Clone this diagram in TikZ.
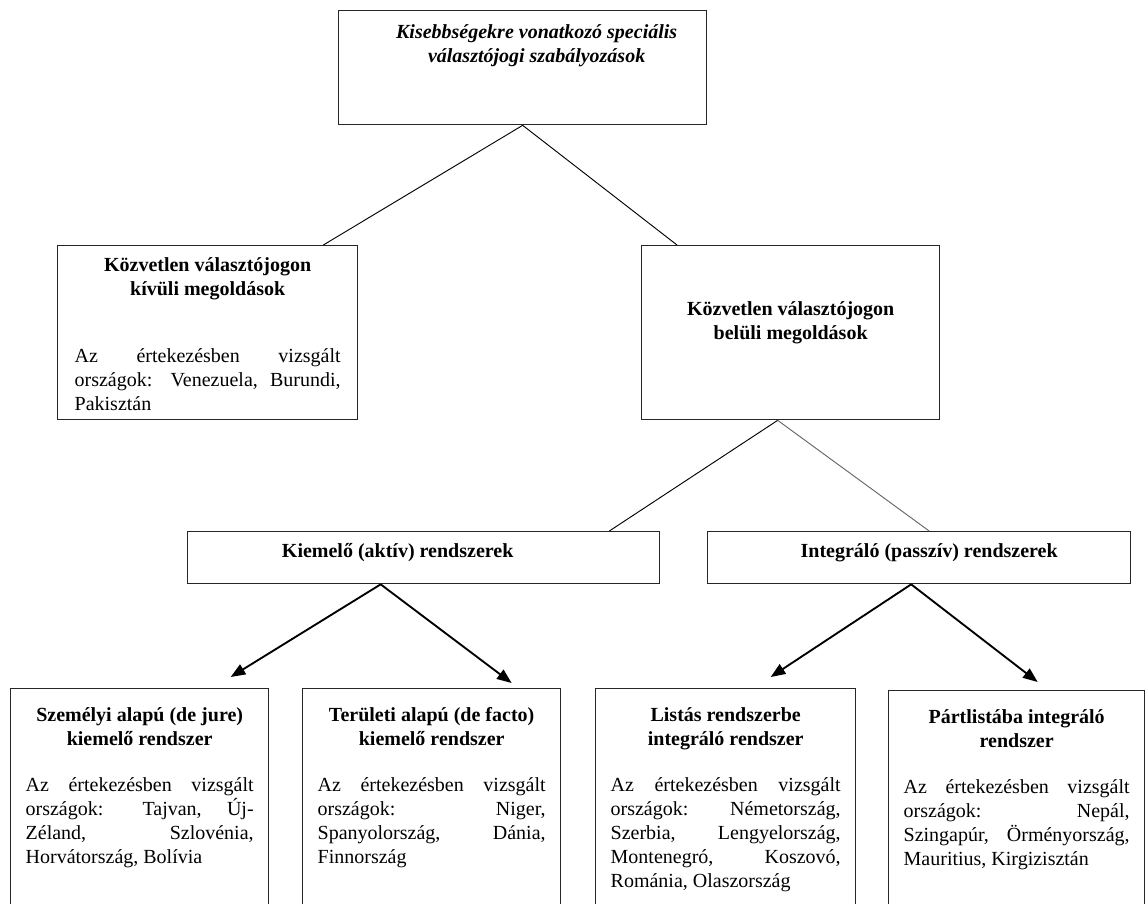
\documentclass[tikz,border=0pt]{standalone}
\usepackage{fontspec}
\setmainfont{Liberation Serif}
\usetikzlibrary{arrows.meta,calc}

\tolerance=10000
\hbadness=10000
\hyphenpenalty=10000

% a box: width, height, top skip, bold title, gap, justified body
\newcommand{\cell}[6]{\parbox[c][#2][t]{#1}{\vspace*{#3}%
  {\centering\bfseries\rule{0pt}{12pt}#4\par}\vspace{#5}#6\par}}
% a box with a title only
\newcommand{\headcell}[4]{\parbox[c][#2][t]{#1}{\vspace*{#3}%
  \centering\bfseries\rule{0pt}{12pt}#4\par}}

\begin{document}
\begin{tikzpicture}[
  x=0.75pt, y=-0.75pt,
  cellbox/.style = {draw=black!85, line width=1pt, anchor=north west,
                    inner ysep=0pt, inner xsep=11.25pt,
                    font=\fontsize{15pt}{18pt}\selectfont},
  branch/.style  = {line width=0.7pt},
  pointer/.style = {line width=1.4pt, -{Triangle[length=11pt,width=8.5pt]}},
]
  \useasboundingbox (0,0) rectangle (1148,903);
  \clip (0,0) rectangle (1148,903);

  \node[cellbox, inner xsep=7.5pt] (root) at (338,10)
    {\headcell{261pt}{85.5pt}{9pt}{\leftskip=21pt plus 1fil\itshape
     Kisebbségekre vonatkozó speciális\\ választójogi szabályozások}};

  \node[cellbox, inner xsep=12.75pt] (outer) at (57,245)
    {\cell{199.5pt}{130.5pt}{7.5pt}{Közvetlen választójogon\\ kívüli megoldások}{32.25pt}
     {Az értekezésben vizsgált\linebreak országok: Venezuela, Burundi,\linebreak Pakisztán}};
  \node[cellbox] (inner) at (641,245)
    {\headcell{201pt}{130.5pt}{40.5pt}{Közvetlen választójogon\\ belüli megoldások}};

  \node[cellbox] (active) at (187,531)
    {\headcell{331.5pt}{39pt}{7.5pt}{\hspace*{-39pt}Kiemelő (aktív) rendszerek}};
  \node[cellbox] (passive) at (707,531)
    {\headcell{294.75pt}{39pt}{7.5pt}{\hspace*{15pt}Integráló (passzív) rendszerek}};

  % the lowest row runs past the lower edge of the page
  \node[cellbox] (personal) at (10,688)
    {\cell{171pt}{187.5pt}{12.75pt}{Személyi alapú (de jure)\\ kiemelő rendszer}{16.5pt}
     {Az értekezésben vizsgált\linebreak országok: Tajvan, Új-\linebreak Zéland, Szlovénia,\linebreak Horvátország, Bolívia}};
  \node[cellbox] (territorial) at (302,688)
    {\cell{171pt}{187.5pt}{12.75pt}{Területi alapú (de facto)\\ kiemelő rendszer}{16.5pt}
     {Az értekezésben vizsgált\linebreak országok: Niger,\linebreak Spanyolország, Dánia,\linebreak Finnország}};
  \node[cellbox] (listed) at (595,688)
    {\cell{172.5pt}{187.5pt}{12.75pt}{Listás rendszerbe\\ integráló rendszer}{16.5pt}
     {Az értekezésben vizsgált\linebreak országok: Németország,\linebreak Szerbia, Lengyelország,\linebreak Montenegró, Koszovó,\linebreak Románia, Olaszország}};
  \node[cellbox] (party) at (888,690)
    {\cell{169.5pt}{187.5pt}{12.75pt}{Pártlistába integráló\\ rendszer}{16.5pt}
     {Az értekezésben vizsgált\linebreak országok: Nepál,\linebreak Szingapúr, Örményország,\linebreak Mauritius, Kirgizisztán}};

  \draw[branch] (root.south) -- ($(outer.north east)+(-35,0)$);
  \draw[branch] (root.south) -- ($(inner.north west)+(36,0)$);
  \draw[branch] ($(inner.south)+(-13,0)$) -- ($(active.north east)+(-51,0)$);
  \draw[branch, draw=black!60] ($(inner.south)+(-13,0)$) -- ($(passive.north)+(10,0)$);

  \draw[pointer] ($(active.south)+(-43,0)$) -- ($(personal.north)+(91,-11)$);
  \draw[pointer] ($(active.south)+(-43,0)$) -- ($(territorial.north)+(80,-5)$);
  \draw[pointer] ($(passive.south)+(-8,0)$) -- ($(listed.north)+(45,-11)$);
  \draw[pointer] ($(passive.south)+(-8,0)$) -- ($(party.north)+(21,-8)$);
\end{tikzpicture}
\end{document}
